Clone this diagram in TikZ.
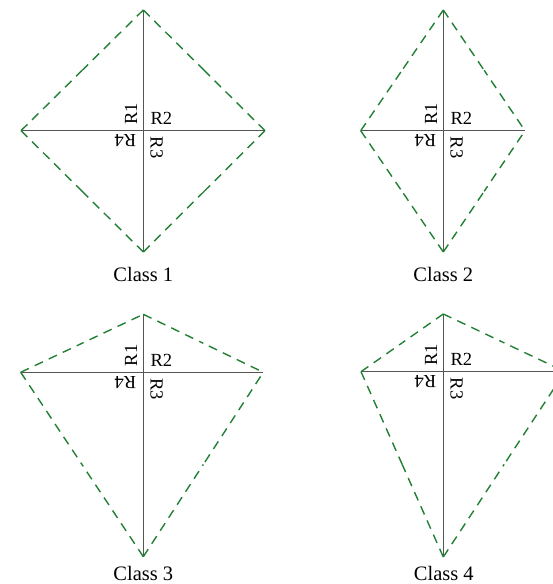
\documentclass[tikz,border=0pt]{standalone}
\usepackage{fontspec}
\setmainfont{Liberation Serif}
\usetikzlibrary{calc}
\definecolor{kitegreen}{RGB}{34,128,52}
\definecolor{axisgray}{RGB}{85,85,85}
\tikzset{
  axisline/.style={draw=axisgray, line width=0.8pt},
  kiteside/.style={draw=kitegreen, line width=1.4pt, dash pattern=on 9pt off 6.5pt},
  rlabel/.style={inner sep=0pt, anchor=south west, font=\rmfamily\fontsize{18.5}{20}\selectfont},
  classlabel/.style={inner sep=0pt, anchor=base, font=\rmfamily\fontsize{20.5}{22}\selectfont},
}
% half of a kite side, from vertex #1 towards the middle of the side to vertex #2
\newcommand{\halfside}[3]{\draw[kiteside,shorten <=#3] (#1) -- ($(#1)!0.5!(#2)$);}
\begin{document}
\begin{tikzpicture}[x=1pt,y=1pt]
\useasboundingbox (0,0) rectangle (553,584);
\clip (0,0) rectangle (553,584);

% ---------- Class 1 ----------
\coordinate (C1) at (143.3,453.3);
\coordinate (T1) at (143.3,574);
\coordinate (B1) at (143.3,332);
\coordinate (L1) at (21,453.3);
\coordinate (R1) at (265,453.3);
\draw[axisline] (L1) -- (R1);
\draw[axisline] (T1) -- (B1);
\halfside{T1}{R1}{0pt} \halfside{R1}{T1}{0pt}
\halfside{R1}{B1}{0pt} \halfside{B1}{R1}{0pt}
\halfside{B1}{L1}{0pt} \halfside{L1}{B1}{0pt}
\halfside{L1}{T1}{0pt} \halfside{T1}{L1}{0pt}
\node[rlabel, rotate=90]  (c1q1) at ($(C1)+(-6,6)$) {R1};
\node[rlabel]             (c1q2) at ($(C1)+(7,6)$) {R2};
\node[rlabel, rotate=-90] (c1q3) at ($(C1)+(7,-6)$) {R3};
\node[rlabel, rotate=180] (c1q4) at ($(C1)+(-7,-4)$) {R4};
\node[classlabel] (cl1) at (143.3,302.5) {Class 1};

% ---------- Class 2 ----------
\coordinate (C2) at (443.3,453.3);
\coordinate (T2) at (443.3,574);
\coordinate (B2) at (443.3,332);
\coordinate (L2) at (360.7,453.3);
\coordinate (R2) at (525,453.3);
\draw[axisline] (L2) -- (R2);
\draw[axisline] (T2) -- (B2);
\halfside{T2}{R2}{0pt} \halfside{R2}{T2}{5pt}
\halfside{R2}{B2}{5pt} \halfside{B2}{R2}{0pt}
\halfside{B2}{L2}{0pt} \halfside{L2}{B2}{0pt}
\halfside{L2}{T2}{0pt} \halfside{T2}{L2}{0pt}
\node[rlabel, rotate=90]  (c2q1) at ($(C2)+(-6,6)$) {R1};
\node[rlabel]             (c2q2) at ($(C2)+(7,6)$) {R2};
\node[rlabel, rotate=-90] (c2q3) at ($(C2)+(7,-6)$) {R3};
\node[rlabel, rotate=180] (c2q4) at ($(C2)+(-7,-4)$) {R4};
\node[classlabel] (cl2) at (443.3,302.5) {Class 2};

% ---------- Class 3 ----------
\coordinate (C3) at (143.3,211.7);
\coordinate (T3) at (143.3,269.7);
\coordinate (B3) at (143.3,27.3);
\coordinate (L3) at (20.7,211.7);
\coordinate (R3) at (263.3,211.7);
\draw[axisline] (L3) -- (R3);
\draw[axisline] (T3) -- (B3);
\halfside{T3}{R3}{0pt} \halfside{R3}{T3}{5pt}
\halfside{R3}{B3}{5pt} \halfside{B3}{R3}{0pt}
\halfside{B3}{L3}{0pt} \halfside{L3}{B3}{0pt}
\halfside{L3}{T3}{0pt} \halfside{T3}{L3}{4pt}
\node[rlabel, rotate=90]  (c3q1) at ($(C3)+(-6,6)$) {R1};
\node[rlabel]             (c3q2) at ($(C3)+(7,6)$) {R2};
\node[rlabel, rotate=-90] (c3q3) at ($(C3)+(7,-6)$) {R3};
\node[rlabel, rotate=180] (c3q4) at ($(C3)+(-7,-4)$) {R4};
\node[classlabel] (cl3) at (143.3,3) {Class 3};

% ---------- Class 4 ----------
\coordinate (C4) at (443.3,212.3);
\coordinate (T4) at (443.3,270);
\coordinate (B4) at (443.3,27);
\coordinate (L4) at (361,212.3);
\coordinate (R4) at (565,212.3);
\draw[axisline] (L4) -- (R4);
\draw[axisline] (T4) -- (B4);
\halfside{T4}{R4}{0pt} \halfside{R4}{T4}{5pt}
\halfside{R4}{B4}{5pt} \halfside{B4}{R4}{0pt}
\halfside{B4}{L4}{0pt} \halfside{L4}{B4}{0pt}
\halfside{L4}{T4}{0pt} \halfside{T4}{L4}{0pt}
\node[rlabel, rotate=90]  (c4q1) at ($(C4)+(-6,6)$) {R1};
\node[rlabel]             (c4q2) at ($(C4)+(7,6)$) {R2};
\node[rlabel, rotate=-90] (c4q3) at ($(C4)+(7,-6)$) {R3};
\node[rlabel, rotate=180] (c4q4) at ($(C4)+(-7,-4)$) {R4};
\node[classlabel] (cl4) at (443.8,3) {Class 4};
\end{tikzpicture}
\end{document}
